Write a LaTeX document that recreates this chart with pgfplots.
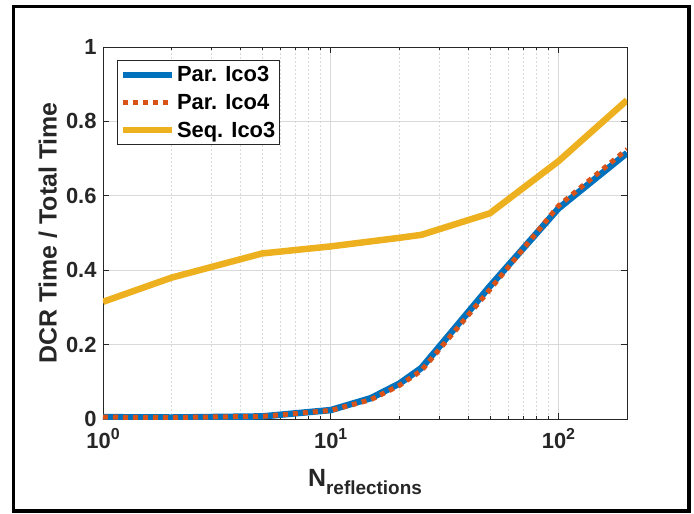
\documentclass[border=0pt]{standalone}
\usepackage{pgfplots}
\pgfplotsset{compat=1.18}
\usepackage{fontspec}
\setmainfont{Liberation Sans}
\definecolor{mblue}{rgb}{0,0.447,0.741}
\definecolor{mred}{rgb}{0.85,0.325,0.098}
\definecolor{myellow}{rgb}{0.929,0.694,0.125}
\definecolor{axgray}{rgb}{0.15,0.15,0.15}
\begin{document}
\begin{tikzpicture}
\useasboundingbox (-103bp,-95bp) rectangle (591bp,419bp);
\draw[black,line width=3.5bp] (-89.5bp,-92bp) rectangle (586bp,412.5bp);
\begin{axis}[
  at={(0,0)}, anchor=south west,
  scale only axis, width=524bp, height=372bp,
  xmode=log, xmin=1, xmax=200, ymin=0, ymax=1,
  font=\bfseries,
  /pgf/number format/assume math mode=true,
  tick label style={font=\fontsize{22}{26}\selectfont\bfseries, text=axgray},
  xtick={1,10,100},
  xticklabels={10\raisebox{0.75ex}{\fontsize{16}{16}\selectfont 0},10\raisebox{0.75ex}{\fontsize{16}{16}\selectfont 1},10\raisebox{0.75ex}{\fontsize{16}{16}\selectfont 2}},
  ytick={0,0.2,0.4,0.6,0.8,1},
  yticklabels={0,0.2,0.4,0.6,0.8,1},
  tick align=inside,
  major tick length=6bp, minor tick length=3bp,
  every tick/.style={axgray, line width=0.6bp},
  axis line style={axgray, line width=0.8bp},
  xmajorgrids, ymajorgrids, xminorgrids,
  major grid style={gray!30, line width=0.6bp},
  minor grid style={gray!30, dash pattern=on 2bp off 2bp, line width=0.5bp},
  xticklabel style={yshift=-6bp},
  yticklabel style={xshift=-3bp},
  xlabel={N\raisebox{-0.6ex}{\fontsize{19}{19}\selectfont reflections}},
  ylabel={DCR Time / Total Time},
  label style={font=\fontsize{25}{28}\selectfont\bfseries, text=axgray},
  xlabel style={yshift=-14bp},
  ylabel style={yshift=2bp},
  legend cell align=left,
  legend style={at={(rel axis cs:0.027,0.965)}, anchor=north west,
    font=\fontsize{22}{25}\selectfont\bfseries, draw=axgray, line width=0.8bp,
    inner xsep=2bp, inner ysep=4bp, row sep=7bp},
  legend image code/.code={\draw[#1] (0bp,0bp) -- (49bp,0bp);},
]
\addplot[mblue, line width=6.5bp] coordinates {
 (1,0.005) (2,0.004) (5,0.007) (10,0.024) (15,0.056) (20,0.095) (25,0.137) (50,0.357) (100,0.566) (200,0.715)};
\addlegendentry{Par. Ico3}
\addplot[mred, line width=5bp, dash pattern=on 5bp off 5bp] coordinates {
 (1,0.005) (2,0.004) (5,0.007) (10,0.023) (15,0.052) (20,0.09) (25,0.13) (50,0.348) (100,0.573) (200,0.725)};
\addlegendentry{Par. Ico4}
\addplot[myellow, line width=6.5bp] coordinates {
 (1,0.315) (2,0.38) (5,0.445) (10,0.464) (20,0.487) (25,0.495) (50,0.553) (100,0.693) (200,0.857)};
\addlegendentry{Seq. Ico3}
\end{axis}
\end{tikzpicture}
\end{document}
